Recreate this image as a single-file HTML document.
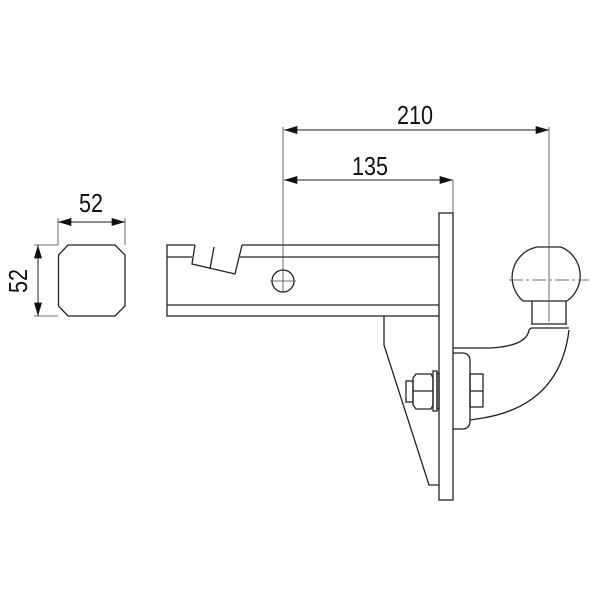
<!DOCTYPE html>
<html><head><style>html,body{margin:0;padding:0;background:#fff}svg{display:block}</style></head>
<body>
<svg width="600" height="600" viewBox="0 0 600 600" xmlns="http://www.w3.org/2000/svg">
<defs>
<marker id="a" viewBox="0 0 10 6" refX="10" refY="3" markerWidth="14" markerHeight="8" markerUnits="userSpaceOnUse" orient="auto-start-reverse"><path d="M0,0L10,3L0,6z" fill="#111"/></marker>
</defs>
<g fill="none" stroke="#222" stroke-width="1.3">
<path d="M68,245H115L125,255V306L115,316H68L58.5,306V255Z"/>
<path d="M195,245H167V316H439"/>
<path d="M242,245H439"/>
<path d="M167,257H192"/><path d="M240,257H439"/>
<path d="M167,305H439"/>
<path d="M195,245L192,264L235,274L242,245"/>
<path d="M210,269L214,247"/>
<circle cx="283" cy="281" r="11"/>
<rect x="439" y="213" width="14" height="287"/>
<path d="M384,316V345L429,485H439"/>
<rect x="433" y="371" width="4" height="40"/>
<rect x="437" y="373" width="2" height="36"/>
<path d="M416,374H431L433,378V405L431,409H416L413,405V378Z"/>
<path d="M413,391H433"/>
<rect x="406" y="381" width="7" height="21"/>
<path d="M453,353H462Q470,353 470,361V421Q470,429 462,429H453"/>
<rect x="470" y="374" width="13" height="33"/>
<path d="M483,391H470"/>
<path d="M453,348H490Q527,346 529,330L531,328"/>
<path d="M470,420L483,418Q560,405 569,330"/>
<path d="M531,328H569"/>
<path d="M531,324H567"/>
<path d="M532,324V301M566,324V301"/>
<path d="M523,301H567"/>
<path d="M523,301A31,31 0 0 1 537,247H561A31,31 0 0 1 567,301"/>
</g>
<g stroke="#444" stroke-width="0.8" fill="none">
<path d="M509,280H589" stroke-dasharray="14,3,3,3"/>
<path d="M549,127V322"/>
<path d="M283,127V293"/>
<path d="M270,281H296"/>
<path d="M453,180V213"/>
<path d="M58,218V245M125,218V245"/>
<path d="M34,245H58M34,316H58"/>
</g>
<g stroke="#222" stroke-width="1" fill="none">
<path d="M284,130H549" marker-start="url(#a)" marker-end="url(#a)"/>
<path d="M284,180H453" marker-start="url(#a)" marker-end="url(#a)"/>
<path d="M58,222H125" marker-start="url(#a)" marker-end="url(#a)"/>
<path d="M38,245V316" marker-start="url(#a)" marker-end="url(#a)"/>
</g>
<g font-family="Liberation Sans, sans-serif" font-size="26" fill="#111" text-anchor="middle">
<text x="415" y="124" textLength="36" lengthAdjust="spacingAndGlyphs">210</text>
<text x="370" y="175" textLength="36" lengthAdjust="spacingAndGlyphs">135</text>
<text x="91" y="212" textLength="24" lengthAdjust="spacingAndGlyphs">52</text>
<text transform="translate(27,281) rotate(-90)" x="0" y="0" textLength="24" lengthAdjust="spacingAndGlyphs">52</text>
</g>
</svg>
</body></html>
